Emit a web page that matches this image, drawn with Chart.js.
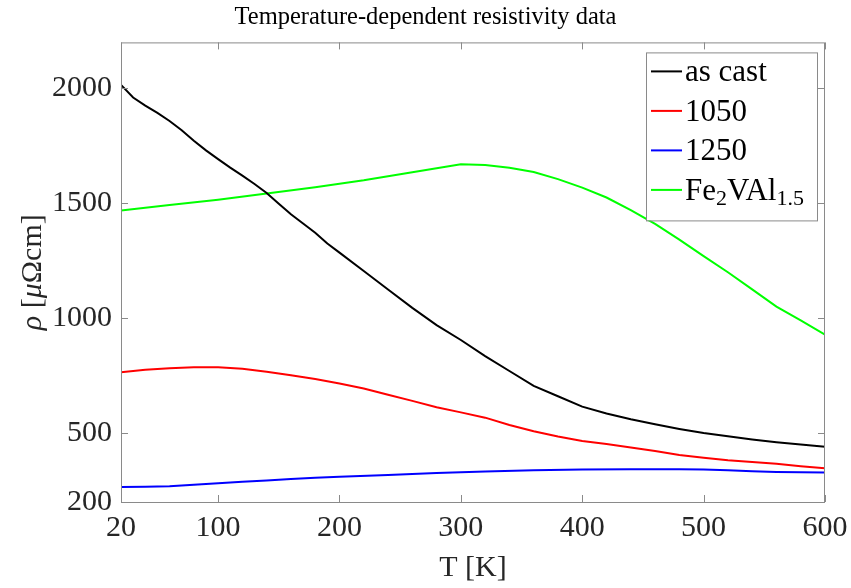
<!DOCTYPE html>
<html>
<head>
<meta charset="utf-8">
<script src="https://cdn.jsdelivr.net/npm/chart.js@4/dist/chart.umd.min.js"></script>
<style>
  html, body { margin: 0; padding: 0; background: #fff; }
  #plot { display: block; }
</style>
</head>
<body>
<canvas id="plot" width="851" height="588"></canvas>
<script>
// axis ticks
const tempTicks = [20, 100, 200, 300, 400, 500, 600];
const rhoTicks = [200, 500, 1000, 1500, 2000];

// as cast
const castTemp = [20, 30, 40, 50, 60, 70, 80, 90, 100, 110, 120, 130, 140, 150, 160, 170, 180, 190, 200,
  220, 240, 260, 280, 300, 320, 340, 360, 380, 400, 420, 440, 460, 480, 500, 520, 540, 560, 580, 600];
const castRho = [2015, 1960, 1925, 1893, 1858, 1818, 1772, 1730, 1692, 1655, 1620, 1584, 1545, 1498, 1452, 1412, 1372, 1325, 1285,
  1205, 1125, 1045, 970, 905, 835, 770, 705, 660, 615, 585, 560, 538, 518, 500, 486, 472, 460, 450, 440];

// 1050
const t1050Temp = [20, 40, 60, 80, 100, 120, 140, 160, 180, 200, 220, 240, 260, 280, 300,
  320, 340, 360, 380, 400, 420, 440, 460, 480, 500, 520, 540, 560, 580, 600];
const t1050Rho = [765, 775, 782, 786, 786, 780, 767, 752, 735, 716, 694, 667, 640, 612, 590,
  567, 535, 508, 485, 465, 452, 437, 422, 405, 393, 382, 374, 366, 356, 347];

// 1250
const t1250Temp = [20, 40, 60, 80, 100, 120, 140, 160, 180, 200, 240, 280, 320, 360, 400, 440, 480, 500, 520, 540, 560, 580, 600];
const t1250Rho = [265, 266, 269, 275, 282, 288, 294, 300, 305, 310, 318, 326, 333, 338, 341, 343, 343, 341, 338, 334, 331, 330, 328];

// Fe2VAl1.5
const feTemp = [20, 60, 100, 140, 180, 220, 260, 300, 320, 340, 360, 380, 400, 420, 440, 460, 480, 500, 520, 540, 560, 580, 600];
const feRho = [1468, 1492, 1515, 1542, 1570, 1600, 1635, 1670, 1666, 1655, 1636, 1605, 1568, 1525, 1470, 1410, 1342, 1270, 1200, 1125, 1050, 990, 928];

const seriesColors = ['#000000', '#ff0000', '#0000ff', '#00ff00'];
// legend text pieces: [text, isSubscript]
const legendLabels = [
  [['as cast', 0]],
  [['1050', 0]],
  [['1250', 0]],
  [['Fe', 0], ['2', 1], ['VAl', 0], ['1.5', 1]]
];
// y axis title pieces: [text, isItalic]
const yTitle = [['ρ', 1], [' [', 0], ['μ', 1], ['Ωcm]', 0]];

const serif = '"Liberation Serif", "DejaVu Serif", serif';
const frameColor = '#8a8a8a';

function pairs(xs, ys) {
  return xs.map((x, i) => ({x: x, y: ys[i]}));
}

//draws the box and the inward tick marks
const framePlugin = {
  id: 'frame',
  afterDatasetsDraw: (chart) => {
    const {ctx, chartArea: a, scales} = chart;
    ctx.save();
    ctx.strokeStyle = frameColor;
    ctx.lineWidth = 1;
    ctx.strokeRect(a.left + 0.5, a.top + 0.5, a.right - a.left - 1, a.bottom - a.top);
    ctx.beginPath();
    tempTicks.forEach((v) => {
      const px = Math.round(scales.x.getPixelForValue(v)) + 0.5;
      ctx.moveTo(px, a.bottom); ctx.lineTo(px, a.bottom - 7);
      ctx.moveTo(px, a.top); ctx.lineTo(px, a.top + 7);
    });
    rhoTicks.forEach((v) => {
      const py = Math.round(scales.y.getPixelForValue(v)) + 0.5;
      ctx.moveTo(a.left, py); ctx.lineTo(a.left + 7, py);
      ctx.moveTo(a.right, py); ctx.lineTo(a.right - 7, py);
    });
    ctx.stroke();

    //rotated y label with italic greek letters
    const pieceFont = (it) => (it ? 'italic ' : '') + '30px ' + serif;
    let total = 0;
    yTitle.forEach(([txt, it]) => { ctx.font = pieceFont(it); total += ctx.measureText(txt).width; });
    ctx.translate(33, (a.top + a.bottom) / 2);
    ctx.rotate(-Math.PI / 2);
    ctx.fillStyle = '#262626';
    ctx.textBaseline = 'middle';
    let x = -total / 2;
    yTitle.forEach(([txt, it]) => {
      ctx.font = pieceFont(it);
      ctx.fillText(txt, x, 0);
      x += ctx.measureText(txt).width;
    });
    ctx.restore();
  }
};

//boxed legend in the top right corner, with subscripts
const legendPlugin = {
  id: 'boxLegend',
  afterDraw: (chart) => {
    const {ctx, chartArea: a} = chart;
    const mainFont = '31px ' + serif;
    const subFont = '22px ' + serif;
    ctx.save();
    let widest = 0;
    legendLabels.forEach((parts) => {
      let w = 0;
      parts.forEach(([txt, sub]) => {
        ctx.font = sub ? subFont : mainFont;
        w += ctx.measureText(txt).width;
      });
      widest = Math.max(widest, w);
    });
    const lineLen = 31;
    const boxW = Math.max(5 + lineLen + 3 + widest + 6, 171);
    const rowH = 39.5;
    const boxH = 10 + rowH * legendLabels.length;
    const right = a.right - 8;
    const top = a.top + 10;
    const left = right - boxW;
    ctx.fillStyle = '#fff';
    ctx.fillRect(left, top, boxW, boxH);
    ctx.strokeStyle = frameColor;
    ctx.lineWidth = 1;
    ctx.strokeRect(Math.round(left) + 0.5, top + 0.5, Math.round(boxW), Math.round(boxH));
    legendLabels.forEach((parts, i) => {
      const cy = top + 19 + i * rowH;
      ctx.strokeStyle = seriesColors[i];
      ctx.lineWidth = 2;
      ctx.beginPath();
      ctx.moveTo(left + 5, cy);
      ctx.lineTo(left + 5 + lineLen, cy);
      ctx.stroke();
      let x = left + 5 + lineLen + 3;
      ctx.fillStyle = '#000';
      ctx.textBaseline = 'alphabetic';
      parts.forEach(([txt, sub]) => {
        ctx.font = sub ? subFont : mainFont;
        ctx.fillText(txt, x, cy + (sub ? 15 : 10));
        x += ctx.measureText(txt).width;
      });
    });
    ctx.restore();
  }
};

new Chart(document.getElementById('plot'), {
  type: 'line',
  data: {
    datasets: [
      {label: 'as cast', data: pairs(castTemp, castRho)},
      {label: '1050', data: pairs(t1050Temp, t1050Rho)},
      {label: '1250', data: pairs(t1250Temp, t1250Rho)},
      {label: 'Fe2VAl1.5', data: pairs(feTemp, feRho)}
    ].map((d, i) => Object.assign(d, {
      borderColor: seriesColors[i],
      backgroundColor: seriesColors[i],
      borderWidth: 2,
      pointRadius: 0,
      tension: 0,
      fill: false
    }))
  },
  options: {
    responsive: false,
    animation: false,
    devicePixelRatio: 1,
    layout: { padding: { left: 0, right: 0, top: 0, bottom: 0 } },
    plugins: {
      legend: { display: false },
      tooltip: { enabled: false },
      title: {
        display: true,
        text: 'Temperature-dependent resistivity data',
        color: '#000',
        font: { family: serif, size: 24.5, weight: 'normal' },
        padding: { top: 3, bottom: 10 }
      }
    },
    scales: {
      x: {
        type: 'linear',
        min: 20,
        max: 600,
        afterBuildTicks: (scale) => { scale.ticks = tempTicks.map(v => ({value: v})); },
        afterFit: (scale) => { scale.height = 86; scale.paddingRight = 26; },
        grid: { display: false, drawTicks: false },
        border: { display: false },
        ticks: { color: '#262626', font: { family: serif, size: 30 }, padding: 8, maxRotation: 0,
          callback: (v) => String(v) },
        title: {
          display: true,
          text: 'T [K]',
          color: '#262626',
          font: { family: serif, size: 30 },
          padding: { top: 0, bottom: 2 }
        }
      },
      y: {
        type: 'linear',
        min: 200,
        max: 2200,
        afterBuildTicks: (scale) => { scale.ticks = rhoTicks.map(v => ({value: v})); },
        afterFit: (scale) => { scale.width = 121; },
        grid: { display: false, drawTicks: false },
        border: { display: false },
        ticks: { color: '#262626', font: { family: serif, size: 30 }, padding: 9,
          callback: (v) => String(v) },
        title: { display: false }
      }
    }
  },
  plugins: [framePlugin, legendPlugin]
});
</script>
</body>
</html>
